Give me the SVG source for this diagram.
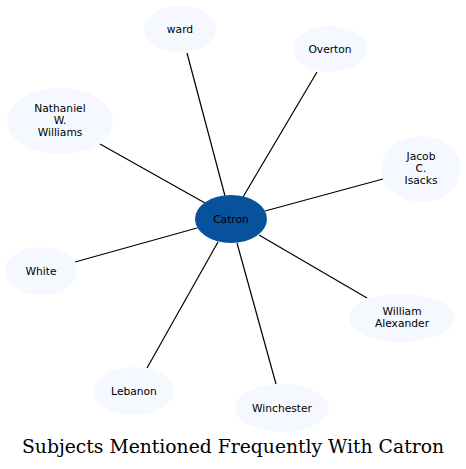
<svg xmlns="http://www.w3.org/2000/svg" width="466" height="469" viewBox="0 0 466 469">
<style>
.n ellipse{fill:#f5f9ff;stroke:none}
.n text{font-family:"DejaVu Sans",sans-serif;font-size:10.7px;text-anchor:middle;fill:#000}
#edges line{stroke:#000;stroke-width:1.2}
.title{font-family:"DejaVu Serif",serif;font-size:18.8px;fill:#000}
</style>
<rect width="466" height="469" fill="#fff"/>
<g id="edges">
<line x1="187" y1="53" x2="225" y2="196"/>
<line x1="317" y1="72" x2="243" y2="197"/>
<line x1="100" y1="144" x2="205" y2="203"/>
<line x1="383" y1="179" x2="265" y2="211"/>
<line x1="75" y1="262" x2="197" y2="228"/>
<line x1="367" y1="298" x2="259" y2="235"/>
<line x1="147" y1="368" x2="218" y2="242"/>
<line x1="276" y1="384" x2="237" y2="243"/>
</g>
<g id="catron" class="n"><ellipse cx="231" cy="219" rx="36" ry="24" style="fill:#08519c"/><text x="231" y="222.7">Catron</text></g>
<g id="ward" class="n"><ellipse cx="180" cy="29" rx="36" ry="23"/><text x="180" y="32.7">ward</text></g>
<g id="overton" class="n"><ellipse cx="330" cy="49" rx="37" ry="23"/><text x="330" y="52.7">Overton</text></g>
<g id="nathaniel" class="n"><ellipse cx="60" cy="121" rx="53" ry="33"/><text x="60" y="111.7">Nathaniel</text><text x="60" y="123.7">W.</text><text x="60" y="135.7">Williams</text></g>
<g id="jacob" class="n"><ellipse cx="421" cy="169" rx="40" ry="33"/><text x="421" y="159.7">Jacob</text><text x="421" y="171.7">C.</text><text x="421" y="183.7">Isacks</text></g>
<g id="white" class="n"><ellipse cx="41" cy="271" rx="36" ry="24"/><text x="41" y="274.7">White</text></g>
<g id="william" class="n"><ellipse cx="402" cy="318" rx="53" ry="24"/><text x="402" y="314.7">William</text><text x="402" y="326.7">Alexander</text></g>
<g id="lebanon" class="n"><ellipse cx="134" cy="391" rx="40" ry="24"/><text x="134" y="394.7">Lebanon</text></g>
<g id="winchester" class="n"><ellipse cx="282" cy="408" rx="47" ry="24"/><text x="282" y="411.7">Winchester</text></g>
<text class="title" x="22" y="453" textLength="422" lengthAdjust="spacingAndGlyphs">Subjects Mentioned Frequently With Catron</text>
</svg>
